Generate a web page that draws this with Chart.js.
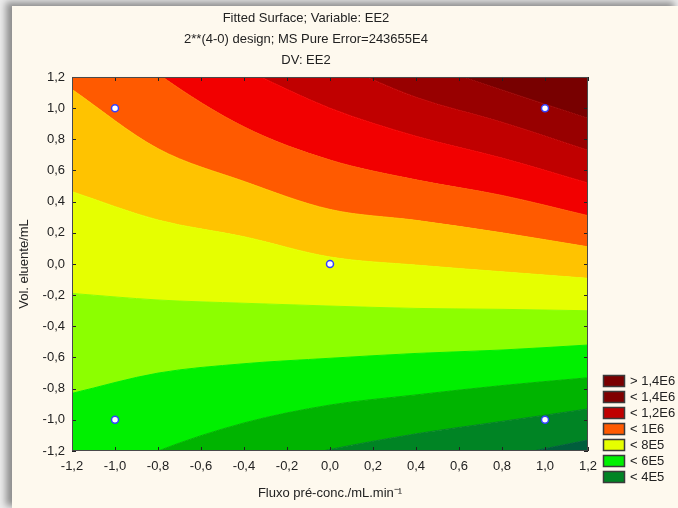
<!DOCTYPE html>
<html>
<head>
<meta charset="utf-8">
<script src="https://cdn.jsdelivr.net/npm/chart.js@4.4.1/dist/chart.umd.min.js"></script>
<style>
  html, body { margin: 0; padding: 0; }
  body { width: 678px; height: 508px; background: #ececec; overflow: hidden; position: relative; }
  #frame {
    position: absolute; left: 12px; top: 6px; width: 666px; height: 502px;
    background: #fef9ee;
    box-shadow: -5px -3px 7px 1px rgba(0, 0, 0, 0.4);
  }
</style>
</head>
<body>
<div id="frame"><canvas id="chart" width="666" height="502"></canvas></div>
<script>
const xGrid = [-1.2, -0.8, -0.4, 0, 0.4, 0.8, 1.2];

// contour borders (y value at each xGrid point), from the bottom up
const contour1 = [-1.75, -1.65, -1.55, -1.45, -1.35, -1.24, -1.13];
const contour2 = [-1.60, -1.45, -1.31, -1.19, -1.09, -1.01, -0.93];
const contour3 = [-1.45, -1.20, -1.02, -0.905, -0.84, -0.78, -0.73];
const contour4 = [-0.83, -0.70, -0.64, -0.605, -0.574, -0.552, -0.52];
const contour5 = [-0.189, -0.231, -0.252, -0.27, -0.285, -0.291, -0.30];
const contour6 = [0.464, 0.282, 0.175, 0.045, -0.007, -0.05, -0.092];
const contour7 = [1.12, 0.74, 0.53, 0.35, 0.28, 0.20, 0.11];
const contour8 = [1.66, 1.22, 0.88, 0.667, 0.54, 0.44, 0.31];
const contour9 = [1.85, 1.50, 1.25, 1.00, 0.82, 0.68, 0.52];
const contour10 = [2.0, 1.7, 1.5, 1.30, 1.07, 0.91, 0.73];
const contour11 = [2.2, 1.88, 1.68, 1.48, 1.30, 1.117, 0.935];

// colour of each band, bottom band first
const bandColors = ['#005e3c', '#008424', '#00b400', '#00f000', '#8cff00', '#e6ff00',
                    '#ffc300', '#ff5a00', '#f20000', '#c00000', '#980000', '#780000'];

// design points
const designX = [-1, 1, 0, -1, 1];
const designY = [1, 1, 0, -1, -1];

// legend
const legendLabels = ['> 1,4E6', '< 1,4E6', '< 1,2E6', '< 1E6', '< 8E5', '< 6E5', '< 4E5'];
const legendColors = ['#7a0000', '#800000', '#c00000', '#ff5a00', '#e6ff00', '#00f000', '#008424'];

const FONT = "'Liberation Sans', Arial, sans-serif";
const TEXT = '#222';

const fmt = (v) => (Math.abs(v) < 1e-9 ? 0 : v).toFixed(1).replace('.', ',');

const contours = [contour1, contour2, contour3, contour4, contour5, contour6,
                  contour7, contour8, contour9, contour10, contour11];

const datasets = contours.map((ys, i) => ({
    label: 'contour ' + (i + 1),
    data: xGrid.map((x, j) => ({ x: x, y: ys[j] })),
    fill: i === 0 ? 'start' : '-1',
    backgroundColor: bandColors[i],
    borderColor: bandColors[i],
    borderWidth: 1,
    pointRadius: 0,
    cubicInterpolationMode: 'monotone',
    clip: 0,
}));

// top band: above the last border
datasets.push({
    label: 'top',
    data: xGrid.map((x, j) => ({ x: x, y: contour11[j] })),
    fill: 'end',
    backgroundColor: bandColors[11],
    borderWidth: 0,
    pointRadius: 0,
    cubicInterpolationMode: 'monotone',
    clip: 0,
});

// design points on top
datasets.push({
    type: 'scatter',
    label: 'design',
    data: designX.map((x, i) => ({ x: x, y: designY[i] })),
    pointRadius: 3.5,
    pointBackgroundColor: '#ffffff',
    pointBorderColor: '#3340ff',
    pointBorderWidth: 1.5,
    showLine: false,
    order: -1,
    clip: false,
});

// frame and inward tick marks on all four sides
const frameTicks = {
    id: 'frameTicks',
    afterDatasetsDraw(chart) {
        const { ctx, chartArea: a, scales: { x, y } } = chart;
        ctx.save();
        ctx.strokeStyle = '#222';
        ctx.lineWidth = 1;
        ctx.beginPath();
        x.ticks.forEach(t => {
            const px = Math.round(x.getPixelForValue(t.value)) + 0.5;
            ctx.moveTo(px, a.top); ctx.lineTo(px, a.top + 4);
            ctx.moveTo(px, a.bottom); ctx.lineTo(px, a.bottom - 4);
        });
        y.ticks.forEach(t => {
            const py = Math.round(y.getPixelForValue(t.value)) + 0.5;
            ctx.moveTo(a.left, py); ctx.lineTo(a.left + 4, py);
            ctx.moveTo(a.right, py); ctx.lineTo(a.right - 4, py);
        });
        ctx.stroke();
        ctx.strokeStyle = '#4a4a4a';
        ctx.strokeRect(a.left + 0.5, a.top + 0.5, a.right - a.left - 1, a.bottom - a.top - 1);
        ctx.restore();
    }
};

// legend at the lower right, next to the plot
const contourLegend = {
    id: 'contourLegend',
    afterDraw(chart) {
        const { ctx, chartArea: a } = chart;
        const x0 = a.right + 15;
        const yLast = a.bottom + 26;
        ctx.save();
        ctx.font = '13px ' + FONT;
        ctx.textBaseline = 'middle';
        ctx.textAlign = 'left';
        legendLabels.forEach((lab, i) => {
            const cy = yLast - 16 * (legendLabels.length - 1 - i);
            ctx.fillStyle = legendColors[i];
            ctx.fillRect(x0, cy - 6, 22, 12);
            ctx.strokeStyle = '#3a3a3a';
            ctx.strokeRect(x0 + 0.5, cy - 5.5, 21, 11);
            ctx.fillStyle = TEXT;
            ctx.fillText(lab, x0 + 27, cy + 0.5);
        });
        ctx.restore();
    }
};

new Chart(document.getElementById('chart').getContext('2d'), {
    type: 'line',
    data: { datasets: datasets },
    options: {
        responsive: false,
        animation: false,
        events: [],
        layout: { padding: { left: 0, right: 78, top: 0, bottom: 0 } },
        plugins: {
            legend: { display: false },
            tooltip: { enabled: false },
            title: {
                display: true,
                text: ['Fitted Surface; Variable: EE2', '2**(4-0) design; MS Pure Error=243655E4', 'DV: EE2'],
                color: TEXT,
                font: { family: FONT, size: 13, weight: 'normal', lineHeight: 1.615 },
                padding: { top: 2, bottom: 6 },
            },
        },
        scales: {
            x: {
                type: 'linear',
                min: -1.2,
                max: 1.2,
                ticks: {
                    stepSize: 0.2, padding: 8, color: TEXT, autoSkip: false, maxRotation: 0,
                    font: { family: FONT, size: 13 }, callback: fmt,
                },
                grid: { display: false, drawTicks: false },
                border: { display: false },
                title: {
                    display: true,
                    text: 'Fluxo pré-conc./mL.min⁻¹',
                    color: TEXT,
                    font: { family: FONT, size: 13 },
                    padding: { top: 0, bottom: 7 },
                },
                afterFit: (s) => { s.height = 57; },
            },
            y: {
                type: 'linear',
                min: -1.2,
                max: 1.2,
                ticks: {
                    stepSize: 0.2, padding: 7, color: TEXT,
                    font: { family: FONT, size: 13 }, callback: fmt,
                },
                grid: { display: false, drawTicks: false },
                border: { display: false },
                title: {
                    display: true,
                    text: 'Vol. eluente/mL',
                    color: TEXT,
                    font: { family: FONT, size: 13 },
                    padding: { top: 5, bottom: 0 },
                },
                afterFit: (s) => { s.width = 60; },
            },
            y2: {
                type: 'linear',
                position: 'right',
                min: -1.2,
                max: 1.2,
                ticks: { display: false },
                grid: { display: false, drawTicks: false },
                border: { display: false },
                afterFit: (s) => { s.width = 12; },
            },
        },
    },
    plugins: [frameTicks, contourLegend],
});
</script>
</body>
</html>
